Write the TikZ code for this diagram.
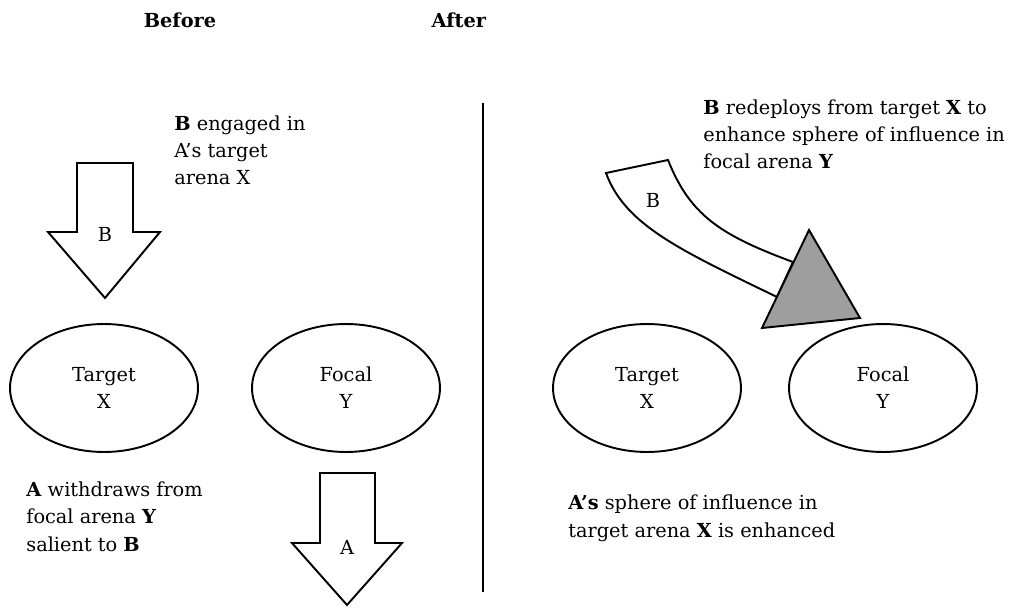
\documentclass[tikz,border=0pt]{standalone}
\usepackage{fontspec}
\setmainfont{DejaVu Serif}
\usetikzlibrary{shapes.geometric}

\begin{document}
\begin{tikzpicture}[x=0.02cm, y=-0.02cm,
                    every node/.style = {font=\fontsize{11}{15.4}\selectfont,
                    align=left},
                    note/.style = {anchor=base west, inner sep=0pt},
                    oval/.style = {draw, line width=1.1pt, ellipse,
                    minimum width=3.76cm, minimum height=2.56cm, align=center},
                    blockarrow/.style = {draw, line width=1.1pt, fill=white,
                    line join=miter},
                    wedge/.style = {draw, line width=1.1pt, fill=black!38,
                    line join=miter}]
  \useasboundingbox (0,0) rectangle (1022,608);
  % headings and divider
  \node (before) at (180,20) {\textbf{Before}};
  \node (after) at (459,20) {\textbf{After}};
  \coordinate (divtop) at (483,103);
  \coordinate (divbot) at (483,592);
  \draw[line width=1.5pt] (divtop) -- (divbot);
  % before
  \draw[blockarrow] (77,163) -- (133,163) -- (133,232) -- (160,232)
    -- (105,298) -- (48,232) -- (77,232) -- cycle;
  \node (barrow) at (105,234) {B};
  \node[note] (bnote) at (174,185)
    {\textbf{B} engaged in\\A's target\\arena X};
  \node[oval] (target1) at (104,388) {Target\\X};
  \node[oval] (focal1) at (346,388) {Focal\\Y};
  \node[note] (anote) at (26,551)
    {\textbf{A} withdraws from\\focal arena \textbf{Y}\\salient to \textbf{B}};
  \draw[blockarrow] (320,473) -- (375,473) -- (375,543) -- (402,543)
    -- (347,605) -- (292,543) -- (320,543) -- cycle;
  \node (aarrow) at (347,547) {A};
  % after
  \draw[blockarrow] (606,173) -- (668,160)
    .. controls (690,215) and (720,235) .. (793,262) -- (777,297)
    .. controls (680,250) and (625,225) .. (606,173) -- cycle;
  \draw[wedge] (809,230) -- (860,318) -- (762,328) -- cycle;
  \node (bcurve) at (653,200) {B};
  \node[note] (bmove) at (703,169)
    {\textbf{B} redeploys from target \textbf{X} to\\enhance sphere of influence in\\focal arena \textbf{Y}};
  \node[oval] (target2) at (647,388) {Target\\X};
  \node[oval] (focal2) at (883,388) {Focal\\Y};
  \node[note] (again) at (568,537)
    {\textbf{A's} sphere of influence in\\target arena \textbf{X} is enhanced};
\end{tikzpicture}
\end{document}
